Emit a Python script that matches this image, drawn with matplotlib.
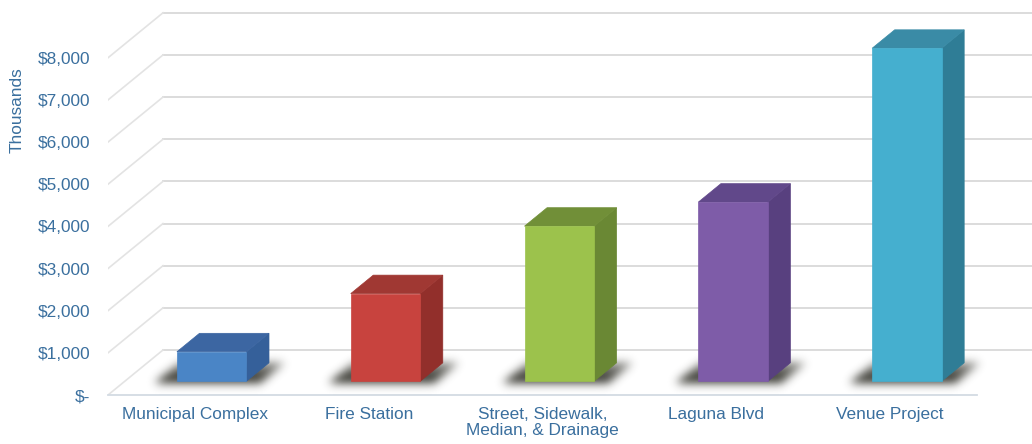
import numpy as np
import matplotlib.pyplot as plt
from matplotlib.patches import Polygon

plt.rcParams['font.family'] = ['Liberation Sans', 'DejaVu Sans']

categories = ["Municipal Complex", "Fire Station", "Street, Sidewalk,\nMedian, & Drainage",
              "Laguna Blvd", "Venue Project"]
values = [700, 2080, 3680, 4250, 7900]   # thousands of dollars

front_colors = ["#4a85c6", "#c8433e", "#9cc24c", "#7e5ca8", "#45afcf"]
top_colors = ["#3c66a2", "#a03833", "#718f38", "#61488a", "#3a8ba6"]
side_colors = ["#35609a", "#922f2b", "#6a8834", "#58407f", "#2f7d96"]

yticks = list(range(0, 9000, 1000))
ytick_labels = ["$-"] + ["${:,}".format(v) for v in yticks[1:]]

TEXT = "#3a6f9e"
W, H, DPI = 1032, 444, 100

# oblique depth of the floor, in category / value units
DEPTH_X = 0.3165
DEPTH_Y = 1068
BAR_W = 0.40
BAR_D0, BAR_D1 = 0.305, 0.715

XLIM = (-0.5, 4.5 + DEPTH_X)
YLIM = (0, 9371)
AX_RECT = [108 / W, 49 / H, 924 / W, 395 / H]
px_per_cat = AX_RECT[2] * W / (XLIM[1] - XLIM[0])
px_per_val = AX_RECT[3] * H / (YLIM[1] - YLIM[0])


def proj(c, v, d):
    return (c + d * DEPTH_X, v + d * DEPTH_Y)


def gauss_blur(img, sigma):
    r = int(3 * sigma)
    k = np.exp(-0.5 * (np.arange(-r, r + 1) / sigma) ** 2)
    k /= k.sum()
    img = np.apply_along_axis(lambda m: np.convolve(m, k, mode='same'), 0, img)
    img = np.apply_along_axis(lambda m: np.convolve(m, k, mode='same'), 1, img)
    return img


def draw_shadow(ax, cl, cr):
    # soft shadow on the floor around the bar footprint
    pad_l, pad_r = 20 / px_per_cat, 16 / px_per_cat
    d_lo, d_hi = BAR_D0 - 0.035, BAR_D1 + 0.0
    x_lo, x_hi = cl - 0.3, cr + DEPTH_X + 0.3
    y_lo, y_hi = -200, DEPTH_Y + 200
    nx = int((x_hi - x_lo) * px_per_cat)
    ny = int((y_hi - y_lo) * px_per_val)
    X, Y = np.meshgrid(np.linspace(x_lo, x_hi, nx), np.linspace(y_lo, y_hi, ny))
    d = Y / DEPTH_Y
    c = X - d * DEPTH_X
    mask = ((d >= d_lo) & (d <= d_hi) & (c >= cl - pad_l) & (c <= cr + pad_r)).astype(float)
    # fade towards the back of the floor
    fade = np.clip(1.0 - (d - BAR_D0) / (BAR_D1 - BAR_D0) * 0.5, 0.4, 1.0)
    mask = gauss_blur(mask * fade, 4.5)
    rgba = np.zeros((ny, nx, 4))
    rgba[..., :3] = np.array([0.15, 0.15, 0.12])
    rgba[..., 3] = np.clip(mask * 1.0, 0, 1)
    ax.imshow(rgba, extent=(x_lo, x_hi, y_lo, y_hi), origin='lower', aspect='auto',
              interpolation='bilinear', zorder=2)


fig = plt.figure(figsize=(W / DPI, H / DPI), dpi=DPI)
ax = fig.add_axes(AX_RECT)

# walls and floor
x_left, x_right = -0.5, 4.5
for v in yticks:
    bx0, by = proj(x_left, v, 1)
    bx1, _ = proj(x_right, v, 1)
    ax.plot([bx0, bx1 + 0.2], [by, by], color="#d9d9d9", lw=1.3, zorder=1, clip_on=False)
    ax.plot([x_left, bx0], [v, by], color="#e3e3e3", lw=1.2, zorder=1)
ax.plot([x_left, x_right], [0, 0], color="#d3dbe3", lw=1.3, zorder=1, clip_on=False)

# bars
for i, v in enumerate(values):
    cl, cr = i - BAR_W / 2, i + BAR_W / 2
    draw_shadow(ax, cl, cr)
    front = [proj(cl, 0, BAR_D0), proj(cr, 0, BAR_D0), proj(cr, v, BAR_D0), proj(cl, v, BAR_D0)]
    side = [proj(cr, 0, BAR_D0), proj(cr, 0, BAR_D1), proj(cr, v, BAR_D1), proj(cr, v, BAR_D0)]
    top = [proj(cl, v, BAR_D0), proj(cr, v, BAR_D0), proj(cr, v, BAR_D1), proj(cl, v, BAR_D1)]
    ax.add_patch(Polygon(side, closed=True, fc=side_colors[i], ec=side_colors[i], lw=0.5, zorder=3))
    ax.add_patch(Polygon(top, closed=True, fc=top_colors[i], ec=top_colors[i], lw=0.5, zorder=3))
    ax.add_patch(Polygon(front, closed=True, fc=front_colors[i], ec=front_colors[i], lw=0.5, zorder=4))

ax.set_xlim(*XLIM)
ax.set_ylim(*YLIM)

ax.set_yticks(yticks)
ax.set_yticklabels(ytick_labels)
ax.set_xticks(range(len(categories)))
ax.set_xticklabels(categories, linespacing=1.1)
ax.tick_params(axis='y', length=0, pad=13, labelsize=12.4, labelcolor=TEXT)
ax.tick_params(axis='x', length=0, pad=8.5, labelsize=12.4, labelcolor=TEXT)
for s in ax.spines.values():
    s.set_visible(False)

fig.text(17 / W, 1 - 110 / H, "Thousands", rotation=90, ha='center', va='center',
         fontsize=12.4, color=TEXT)

fig.savefig("out.png", dpi=DPI)
